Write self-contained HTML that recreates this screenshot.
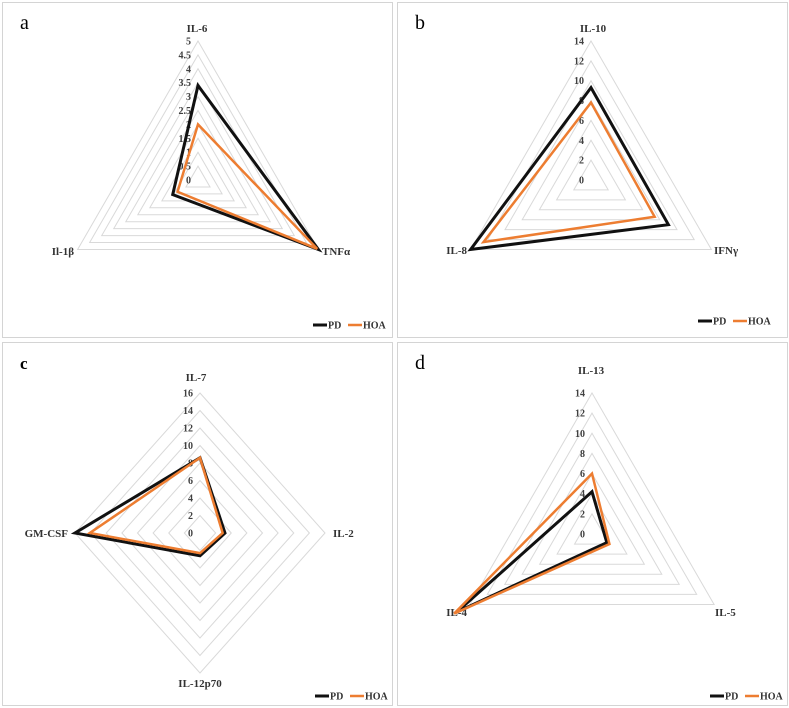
<!DOCTYPE html>
<html><head><meta charset="utf-8"><style>
html,body{margin:0;padding:0;background:#fff;}
svg{display:block;font-family:"Liberation Serif",serif;}
</style></head><body>
<svg id="fig" width="789" height="708" viewBox="0 0 789 708"></svg>
<script>
// Panel a
const catsA = ["IL-6","TNFα","Il-1β"];
const pdA = [3.4, 5.0, 1.05];
const hoaA = [2.0, 4.95, 0.85];
const ticksA = [0,0.5,1,1.5,2,2.5,3,3.5,4,4.5,5];
// Panel b
const catsB = ["IL-10","IFNγ","IL-8"];
const pdB = [9.3, 9.0, 14.0];
const hoaB = [7.8, 7.4, 12.5];
const ticksB = [0,2,4,6,8,10,12,14];
// Panel c
const catsC = ["IL-7","IL-2","IL-12p70","GM-CSF"];
const pdC = [8.6, 3.2, 2.6, 16.0];
const hoaC = [8.6, 2.9, 2.3, 14.1];
const ticksC = [0,2,4,6,8,10,12,14,16];
// Panel d
const catsD = ["IL-13","IL-5","IL-4"];
const pdD = [4.2, 1.7, 15.5];
const hoaD = [6.0, 2.0, 15.8];
const ticksD = [0,2,4,6,8,10,12,14];

const NS = "http://www.w3.org/2000/svg";
const svg = document.getElementById("fig");
function mk(tag, attrs, parent){
  const e = document.createElementNS(NS, tag);
  for (const k in attrs) e.setAttribute(k, attrs[k]);
  (parent||svg).appendChild(e);
  return e;
}
function radar(p){
  const g = mk("g", {});
  
  
  const box = mk("rect", {x:p.bx+0.5, y:p.by+0.5, width:p.bw, height:p.bh, fill:"#fff", stroke:"#d4d4d4", "stroke-width":1}, g);
  
  
  const n = p.cats.length;
  const max = p.ticks[p.ticks.length-1];
  const Rx = p.Rx || p.R, Ry = p.R;
  const ang = i => (-90 + i*360/n) * Math.PI/180;
  const pt = (i, v) => [p.cx + Math.cos(ang(i))*v/max*Rx, p.cy + Math.sin(ang(i))*v/max*Ry];
  p.ticks.forEach(t => {
    if (t === 0) return;
    const pts = p.cats.map((c,i)=>pt(i,t).join(",")).join(" ");
    const r = mk("polygon", {points:pts, fill:"none", stroke:"#d9d9d9", "stroke-width":1}, g);
    
    
  });
  p.ticks.forEach(t => {
    const y = p.cy - t/max*Ry;
    const tx = mk("text", {x:p.cx-7, y:y+3.5, "text-anchor":"end", "font-size":10, "font-weight":"bold", fill:"#404040"}, g);
    tx.textContent = String(t);
    
    
  });
  p.cats.forEach((c,i) => {
    const l = p.labels[i];
    const tx = mk("text", {x:l[0], y:l[1], "text-anchor":l[2], "font-size":11, "font-weight":"bold", fill:"#333"}, g);
    tx.textContent = c;
    
    
  });
  [[p.pd,"#111",3,"series-pd"],[p.hoa,"#ed7d31",2.5,"series-hoa"]].forEach(s => {
    const pts = s[0].map((v,i)=>pt(i,v).join(",")).join(" ");
    const pl = mk("polygon", {points:pts, fill:"none", stroke:s[1], "stroke-width":s[2], "stroke-linejoin":"miter"}, g);
    
    
  });
  const lt = mk("text", {x:p.bx+18, y:p.by+27, "font-size":p.letter==="c"?17:20, "font-weight":p.letter==="c"?"bold":"normal", fill:"#000"}, g);
  lt.textContent = p.letter;
  
  
  const lx = p.legX, ly = p.legY;
  const leg = mk("g", {}, g);
  
  
  mk("line", {x1:lx, y1:ly, x2:lx+14, y2:ly, stroke:"#111", "stroke-width":3}, leg);
  const t1 = mk("text", {x:lx+15, y:ly+3.5, "font-size":10, "font-weight":"bold", fill:"#333"}, leg);
  t1.textContent = "PD";
  
  
  mk("line", {x1:lx+35, y1:ly, x2:lx+49, y2:ly, stroke:"#ed7d31", "stroke-width":2.5}, leg);
  const t2 = mk("text", {x:lx+50, y:ly+3.5, "font-size":10, "font-weight":"bold", fill:"#333"}, leg);
  t2.textContent = "HOA";
  
  
}
radar({letter:"a", bx:2, by:2, bw:390, bh:335, cx:198, cy:180, R:139, cats:catsA, pd:pdA, hoa:hoaA, ticks:ticksA,
  labels:[[197,32,"middle"],[322,255,"start"],[74,255,"end"]], legX:313, legY:325});
radar({letter:"b", bx:397, by:2, bw:390, bh:335, cx:591, cy:180, R:139, cats:catsB, pd:pdB, hoa:hoaB, ticks:ticksB,
  labels:[[593,32,"middle"],[714,254,"start"],[467,254,"end"]], legX:698, legY:321});
radar({letter:"c", bx:2, by:342, bw:390, bh:363, cx:200, cy:533, R:140, Rx:125, cats:catsC, pd:pdC, hoa:hoaC, ticks:ticksC,
  labels:[[196,381,"middle"],[333,537,"start"],[200,687,"middle"],[68,537,"end"]], legX:315, legY:696});
radar({letter:"d", bx:397, by:342, bw:390, bh:363, cx:592, cy:534, R:141, cats:catsD, pd:pdD, hoa:hoaD, ticks:ticksD,
  labels:[[591,374,"middle"],[715,616,"start"],[467,616,"end"]], legX:710, legY:696});
</script>
</body></html>
